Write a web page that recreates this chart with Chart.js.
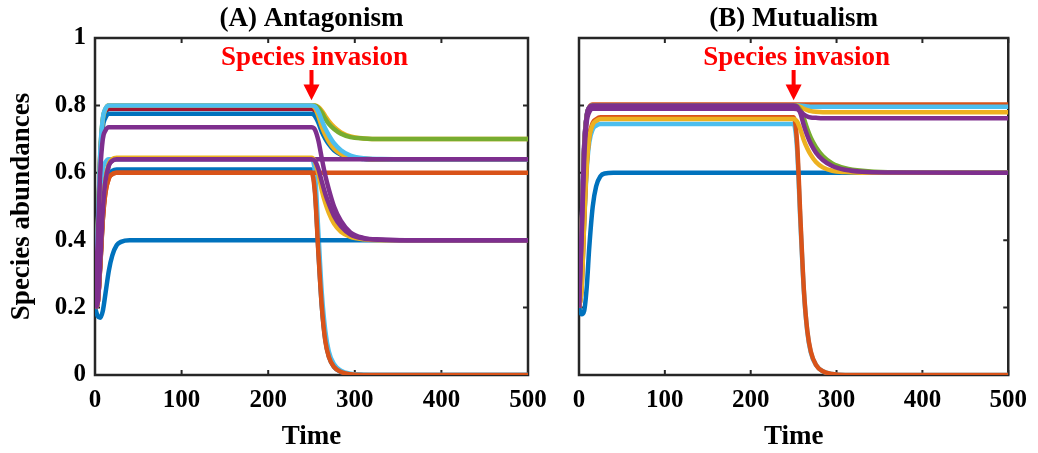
<!DOCTYPE html>
<html><head><meta charset="utf-8">
<script src="https://cdn.jsdelivr.net/npm/chart.js@4.4.0/dist/chart.umd.min.js"></script>
<style>
html,body{margin:0;padding:0;background:#fff;}
#wrap{position:relative;width:1038px;height:453px;overflow:hidden;background:#fff;}
#cA{position:absolute;left:0;top:0;}
#cB{position:absolute;left:540px;top:0;}
</style></head><body>
<div id="wrap"><canvas id="cA" width="560" height="453"></canvas><canvas id="cB" width="498" height="453"></canvas></div>
<script>
// ---------- data ----------
const time = [0, 3, 6, 9, 12, 16, 20, 25, 30, 40, 250, 254, 258, 262, 266, 270, 276, 284, 295, 310, 330, 360, 500];
const xTickLabels = ['0', '100', '200', '300', '400', '500'];
const yTickLabels = ['0', '0.2', '0.4', '0.6', '0.8', '1'];
const panelTitles = ['(A) Antagonism', '(B) Mutualism'];
const xAxisTitle = 'Time';
const yAxisTitle = 'Species abundances';
const annotationText = 'Species invasion';
const invasionTime = 250;

// Panel A (Antagonism) species trajectories
const aBlueToZero      = [0.2, 0.212, 0.323, 0.467, 0.549, 0.594, 0.606, 0.61, 0.61, 0.61, 0.61, 0.549, 0.366, 0.201, 0.104, 0.055, 0.024, 0.009, 0.002, 0, 0, 0, 0];
const aCyanToZero      = [0.2, 0.354, 0.53, 0.609, 0.631, 0.64, 0.64, 0.64, 0.64, 0.64, 0.64, 0.6, 0.42, 0.24, 0.13, 0.07, 0.032, 0.013, 0.004, 0.001, 0, 0, 0];
const aGreenTo070      = [0.2, 0.41, 0.65, 0.758, 0.788, 0.8, 0.8, 0.8, 0.8, 0.8, 0.8, 0.799, 0.792, 0.778, 0.76, 0.745, 0.73, 0.716, 0.706, 0.702, 0.7, 0.7, 0.7];
const aYellowTo070     = [0.2, 0.4, 0.64, 0.752, 0.785, 0.798, 0.8, 0.8, 0.8, 0.8, 0.8, 0.8, 0.795, 0.784, 0.768, 0.753, 0.736, 0.72, 0.708, 0.702, 0.7, 0.7, 0.7];
const aRedTo064        = [0.2, 0.405, 0.643, 0.749, 0.778, 0.79, 0.79, 0.79, 0.79, 0.79, 0.79, 0.783, 0.76, 0.73, 0.708, 0.69, 0.67, 0.655, 0.646, 0.642, 0.64, 0.64, 0.64];
const aBlueTo064       = [0.2, 0.4, 0.63, 0.735, 0.763, 0.775, 0.775, 0.775, 0.775, 0.775, 0.775, 0.768, 0.748, 0.721, 0.701, 0.685, 0.667, 0.654, 0.645, 0.641, 0.64, 0.64, 0.64];
const aYellowTo064     = [0.2, 0.41, 0.65, 0.758, 0.788, 0.8, 0.8, 0.8, 0.8, 0.8, 0.8, 0.792, 0.768, 0.736, 0.712, 0.693, 0.672, 0.656, 0.646, 0.642, 0.64, 0.64, 0.64];
const aCyanTo064       = [0.2, 0.42, 0.66, 0.762, 0.79, 0.8, 0.8, 0.8, 0.8, 0.8, 0.8, 0.797, 0.781, 0.755, 0.731, 0.712, 0.688, 0.667, 0.651, 0.643, 0.641, 0.64, 0.64];
const aPurpleAt064     = [0.2, 0.213, 0.332, 0.486, 0.574, 0.622, 0.636, 0.64, 0.64, 0.64, 0.64, 0.64, 0.64, 0.64, 0.64, 0.64, 0.64, 0.64, 0.64, 0.64, 0.64, 0.64, 0.64];
const aBlueAt040       = [0.2, 0.175, 0.17, 0.19, 0.24, 0.31, 0.355, 0.385, 0.395, 0.4, 0.4, 0.4, 0.4, 0.4, 0.4, 0.4, 0.4, 0.4, 0.4, 0.4, 0.4, 0.4, 0.4];
const aOrangeToZero    = [0.2, 0.212, 0.32, 0.46, 0.54, 0.584, 0.596, 0.6, 0.6, 0.6, 0.6, 0.54, 0.36, 0.2, 0.1, 0.054, 0.024, 0.009, 0.002, 0, 0, 0, 0];
const aOrangeAt060     = [0.2, 0.212, 0.32, 0.46, 0.54, 0.584, 0.596, 0.6, 0.6, 0.6, 0.6, 0.6, 0.6, 0.6, 0.6, 0.6, 0.6, 0.6, 0.6, 0.6, 0.6, 0.6, 0.6];
const aYellowTo040     = [0.2, 0.213, 0.334, 0.489, 0.578, 0.627, 0.641, 0.645, 0.645, 0.645, 0.645, 0.633, 0.596, 0.547, 0.51, 0.481, 0.449, 0.425, 0.41, 0.403, 0.4, 0.4, 0.4];
const aPurpleTo040a    = [0.2, 0.213, 0.332, 0.486, 0.574, 0.622, 0.636, 0.64, 0.64, 0.64, 0.64, 0.635, 0.611, 0.573, 0.537, 0.508, 0.472, 0.441, 0.417, 0.405, 0.401, 0.4, 0.4];
const aPurpleTo040b    = [0.2, 0.39, 0.6, 0.7, 0.725, 0.735, 0.735, 0.735, 0.735, 0.735, 0.735, 0.728, 0.695, 0.641, 0.591, 0.551, 0.5, 0.457, 0.423, 0.407, 0.402, 0.4, 0.4];

// Panel B (Mutualism) species trajectories
const bCyanToZero      = [0.2, 0.255, 0.445, 0.609, 0.69, 0.729, 0.74, 0.745, 0.745, 0.745, 0.745, 0.67, 0.447, 0.246, 0.127, 0.067, 0.03, 0.011, 0.003, 0, 0, 0, 0];
const bBlueAt080       = [0.2, 0.43, 0.68, 0.77, 0.793, 0.8, 0.8, 0.8, 0.8, 0.8, 0.8, 0.8, 0.8, 0.8, 0.8, 0.8, 0.8, 0.8, 0.8, 0.8, 0.8, 0.8, 0.8];
const bRedAt080        = [0.2, 0.43, 0.68, 0.77, 0.793, 0.8, 0.8, 0.8, 0.8, 0.8, 0.8, 0.8, 0.8, 0.8, 0.8, 0.8, 0.8, 0.8, 0.8, 0.8, 0.8, 0.8, 0.8];
const bOrangeAt080     = [0.2, 0.42, 0.67, 0.77, 0.795, 0.803, 0.803, 0.803, 0.803, 0.803, 0.803, 0.803, 0.803, 0.803, 0.803, 0.803, 0.803, 0.803, 0.803, 0.803, 0.803, 0.803, 0.803];
const bCyanTo080       = [0.2, 0.42, 0.67, 0.77, 0.794, 0.8, 0.8, 0.8, 0.8, 0.8, 0.8, 0.8, 0.799, 0.798, 0.797, 0.796, 0.796, 0.796, 0.796, 0.796, 0.796, 0.796, 0.796];
const bYellowTo078     = [0.2, 0.41, 0.66, 0.765, 0.792, 0.8, 0.8, 0.8, 0.8, 0.8, 0.8, 0.799, 0.795, 0.79, 0.786, 0.783, 0.781, 0.78, 0.78, 0.78, 0.78, 0.78, 0.78];
const bGreenTo060      = [0.2, 0.41, 0.66, 0.765, 0.792, 0.8, 0.8, 0.8, 0.8, 0.8, 0.8, 0.798, 0.786, 0.76, 0.73, 0.704, 0.676, 0.65, 0.628, 0.614, 0.606, 0.602, 0.6];
const bBlueAt060       = [0.2, 0.18, 0.19, 0.26, 0.38, 0.5, 0.56, 0.59, 0.598, 0.6, 0.6, 0.6, 0.6, 0.6, 0.6, 0.6, 0.6, 0.6, 0.6, 0.6, 0.6, 0.6, 0.6];
const bOrangeToZero    = [0.2, 0.257, 0.454, 0.624, 0.709, 0.748, 0.759, 0.765, 0.765, 0.765, 0.765, 0.69, 0.46, 0.25, 0.13, 0.07, 0.03, 0.011, 0.003, 0, 0, 0, 0];
const bYellowTo060     = [0.2, 0.256, 0.452, 0.62, 0.704, 0.743, 0.754, 0.76, 0.76, 0.76, 0.76, 0.752, 0.728, 0.696, 0.672, 0.653, 0.632, 0.616, 0.606, 0.602, 0.6, 0.6, 0.6];
const bPurpleTo060     = [0.2, 0.42, 0.67, 0.77, 0.794, 0.8, 0.8, 0.8, 0.8, 0.8, 0.8, 0.796, 0.776, 0.74, 0.71, 0.686, 0.66, 0.638, 0.62, 0.609, 0.603, 0.601, 0.6];
const bPurpleTo076     = [0.2, 0.4, 0.64, 0.75, 0.78, 0.79, 0.79, 0.79, 0.79, 0.79, 0.79, 0.789, 0.782, 0.773, 0.767, 0.764, 0.763, 0.762, 0.762, 0.762, 0.762, 0.762, 0.762];

// ---------- styles ----------
const C = {blue:'#0072BD', orange:'#D95319', yellow:'#EDB120', purple:'#7E2F8E', green:'#77AC30', cyan:'#4DBEEE', red:'#A2142F'};

// listed bottom-most first
const seriesA = [
  [aBlueToZero, C.blue], [aCyanToZero, C.cyan], [aYellowTo070, C.yellow], [aGreenTo070, C.green],
  [aRedTo064, C.red], [aBlueTo064, C.blue], [aYellowTo064, C.yellow], [aCyanTo064, C.cyan],
  [aPurpleAt064, C.purple], [aBlueAt040, C.blue], [aOrangeToZero, C.orange], [aOrangeAt060, C.orange],
  [aYellowTo040, C.yellow], [aPurpleTo040a, C.purple], [aPurpleTo040b, C.purple]
];
const seriesB = [
  [bCyanToZero, C.cyan], [bBlueAt080, C.blue], [bRedAt080, C.red], [bOrangeAt080, C.orange],
  [bCyanTo080, C.cyan], [bYellowTo078, C.yellow], [bGreenTo060, C.green], [bBlueAt060, C.blue],
  [bOrangeToZero, C.orange], [bYellowTo060, C.yellow], [bPurpleTo060, C.purple], [bPurpleTo076, C.purple]
];

const FONT = '"Liberation Serif", "Times New Roman", serif';
const TICK_FONT = {family: FONT, weight: 'bold', size: 25};
const LABEL_FONT = {family: FONT, weight: 'bold', size: 27};
Chart.defaults.font.family = FONT;
Chart.defaults.font.weight = 'bold';
Chart.defaults.font.size = 25;
Chart.defaults.color = '#000';

function makeDatasets(series) {
  // Chart.js draws dataset 0 on top, so reverse the bottom-first list
  return series.slice().reverse().map(([vals, col]) => ({
    data: vals.map((v, i) => ({x: time[i], y: v})),
    borderColor: col,
    backgroundColor: col,
    borderWidth: 4.5,
    pointRadius: 0,
    fill: false,
    cubicInterpolationMode: 'monotone',
    borderJoinStyle: 'round'
  }));
}

const decor = {
  id: 'decor',
  beforeDatasetsDraw(chart, args, opts) {
    const {ctx, chartArea: a, scales: {x, y}} = chart;
    ctx.save();
    ctx.strokeStyle = '#262626';
    ctx.lineWidth = 2.5;
    ctx.strokeRect(a.left, a.top, a.right - a.left, a.bottom - a.top);
    ctx.lineWidth = 2;
    const L = 5;
    ctx.beginPath();
    x.ticks.forEach(t => {
      const p = x.getPixelForValue(t.value);
      ctx.moveTo(p, a.bottom); ctx.lineTo(p, a.bottom - L);
      ctx.moveTo(p, a.top); ctx.lineTo(p, a.top + L);
    });
    y.ticks.forEach(t => {
      const p = y.getPixelForValue(t.value);
      ctx.moveTo(a.left, p); ctx.lineTo(a.left + L, p);
      ctx.moveTo(a.right, p); ctx.lineTo(a.right - L, p);
    });
    ctx.stroke();
    ctx.restore();
  },
  afterDatasetsDraw(chart, args, opts) {
    const {ctx, chartArea: a, scales: {x, y}} = chart;
    ctx.save();
    // panel title
    ctx.fillStyle = '#000';
    ctx.font = 'bold 27px ' + FONT;
    ctx.textAlign = 'center';
    ctx.textBaseline = 'middle';
    ctx.fillText(opts.title, (a.left + a.right) / 2, 19);
    // invasion annotation
    const px = x.getPixelForValue(invasionTime);
    ctx.fillStyle = '#FF0000';
    ctx.fillText(annotationText, px + 3, y.getPixelForValue(0.942));
    const yTail = y.getPixelForValue(0.905), yHead = y.getPixelForValue(0.862), yTip = y.getPixelForValue(0.815);
    ctx.fillRect(px - 2, yTail, 4, yHead - yTail + 1);
    ctx.beginPath();
    ctx.moveTo(px - 8, yHead); ctx.lineTo(px + 8, yHead); ctx.lineTo(px, yTip); ctx.closePath();
    ctx.fill();
    ctx.restore();
  }
};

function makeChart(id, series, title, showY, padRight, yWidth) {
  return new Chart(document.getElementById(id), {
    type: 'line',
    data: {datasets: makeDatasets(series)},
    plugins: [decor],
    options: {
      responsive: false,
      animation: false,
      layout: {padding: {left: 0, top: 38, right: padRight, bottom: 0}},
      plugins: {legend: {display: false}, tooltip: {enabled: false}, decor: {title: title}},
      scales: {
        x: {
          type: 'linear', min: 0, max: 500,
          ticks: {stepSize: 100, autoSkip: false, maxRotation: 0, padding: 11, font: TICK_FONT,
                  callback: (v, i) => xTickLabels[i]},
          grid: {display: false, drawTicks: false}, border: {display: false},
          title: {display: true, text: xAxisTitle, font: LABEL_FONT, padding: {top: 0, bottom: 0}},
          afterFit(s) { s.height = 78; }
        },
        y: {
          type: 'linear', min: 0, max: 1,
          ticks: {display: showY, stepSize: 0.2, padding: 9, font: TICK_FONT,
                  callback: (v, i) => yTickLabels[i]},
          grid: {display: false, drawTicks: false}, border: {display: false},
          title: {display: showY, text: yAxisTitle, font: LABEL_FONT, padding: {top: 6, bottom: 0}},
          afterFit(s) { s.width = yWidth; }
        }
      }
    }
  });
}

makeChart('cA', seriesA, panelTitles[0], true, 32, 95);
makeChart('cB', seriesB, panelTitles[1], false, 25, 39);
</script>
</body></html>
